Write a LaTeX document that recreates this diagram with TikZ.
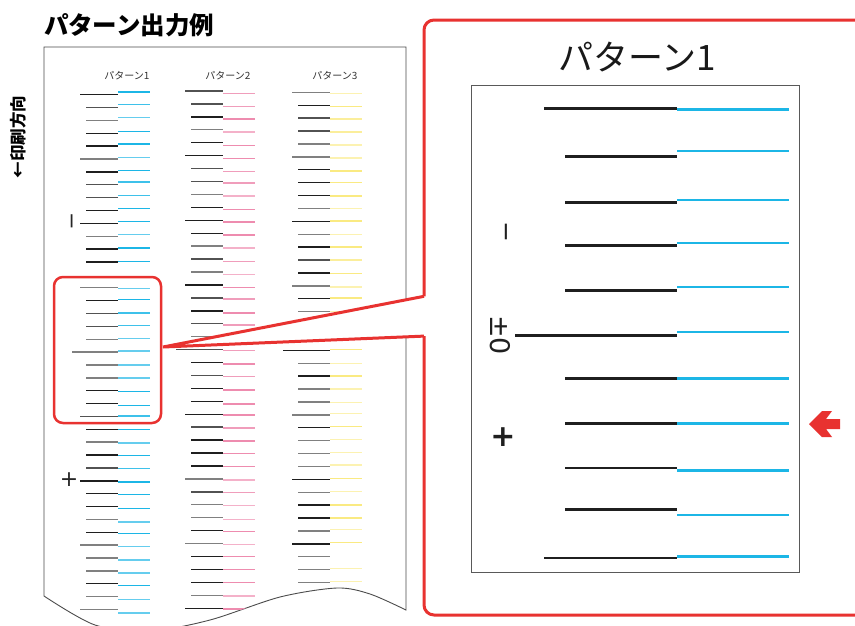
\documentclass[tikz,border=0pt]{standalone}
\usepackage{fontspec}
\setmainfont{Noto Sans CJK JP}
\newfontfamily\sym{DejaVu Sans}
\definecolor{myred}{RGB}{232,50,48}
\definecolor{cyn}{RGB}{28,182,230}
\definecolor{pnk}{RGB}{238,140,175}
\definecolor{ylw}{RGB}{250,234,130}
\colorlet{kd}{black!88}
\colorlet{km}{black!68}
\colorlet{kg}{black!50}
\colorlet{cynd}{cyn}\colorlet{cynm}{cyn!85}\colorlet{cyng}{cyn!68}
\colorlet{pnkd}{pnk}\colorlet{pnkm}{pnk!85}\colorlet{pnkg}{pnk!68}
\colorlet{ylwd}{ylw}\colorlet{ylwm}{ylw!80}\colorlet{ylwg}{ylw!62}
\tikzset{
  bar/.style={line width=1.4pt},
  bigbar/.style={line width=2.6pt},
  redline/.style={draw=myred, line width=3pt},
  lbl/.style={inner sep=0pt, outer sep=0pt},
}
\def\paperpath{(44,47) -- (406,47) -- plot[smooth] coordinates {(406,610) (370,594) (337,588) (280,597) (210,620) (150,631) (95,625) (44,596)} -- cycle}
\begin{document}
\begin{tikzpicture}[x=1pt,y=-1pt]
\useasboundingbox (0,0) rectangle (855,625);
\fill[white] (0,0) rectangle (855,625);

% title
\node[lbl, anchor=west, font=\bfseries\fontsize{24.5}{24.5}\selectfont] (title) at (44,25) {パターン出力例};
\node[lbl, rotate=90, font=\bfseries\fontsize{16.5}{16.5}\selectfont] (dir) at (18,137) {←印刷方向};

% paper
\draw[black!70, line width=0.9pt, fill=white] \paperpath;

\node[lbl, font=\fontsize{10}{10}\selectfont, text=black!80] (p1) at (127,76) {パターン1};
\node[lbl, font=\fontsize{10}{10}\selectfont, text=black!80] (p2) at (228,76) {パターン2};
\node[lbl, font=\fontsize{10}{10}\selectfont, text=black!80] (p3) at (335,76) {パターン3};

\begin{scope}
\clip \paperpath;
% column 1
\foreach \k/\g/\o in {0/d/-2.7,1/m/-3.3,2/g/-3,3/d/-2,4/d/-2.3,5/g/-1.7,6/d/-1.3,7/m/-2.7,8/m/-2,9/d/-2,10/d/-1.7,11/g/-1.7,12/d/-1,13/d/-0.7,15/g/0.7,16/d/-1.3,17/m/-0.3,18/m/-0.7,19/g/-1,20/g/-1,21/g/0,22/g/0,23/d/0.7,24/d/1.7,25/m/-0.3,26/d/0.3,27/g/0.7,28/d/0.3,29/m/0.7,30/d/1.3,31/d/1,32/d/2,33/g/2.7,34/d/1.3,35/g/1.3,36/g/2,37/g/2,38/d/1.7,39/g/2.7,40/g/3.3}{
  \pgfmathsetmacro\yy{94.7+12.87*\k}
  \pgfmathsetmacro\xs{\k==20 ? 72 : (mod(\k,5)==0 ? 80 : 86)}
  \draw[bar, k\g] (\xs,\yy) -- (118,\yy);
  \draw[bar, cyn\g] (118,\yy+\o) -- (150,\yy+\o);
}
% column 2
\foreach \k/\g/\o in {0/m/2.3,1/m/2.3,2/d/2.3,3/g/2.3,4/d/2.7,5/d/2.7,6/m/3,7/m/1.3,8/g/1.7,9/d/2,10/d/1.7,11/d/1.7,12/g/2,13/m/2.3,14/g/2.3,15/d/2.7,16/m/1.3,17/d/2,18/m/1.3,19/g/1,20/m/0.7,21/d/1.3,22/m/1,23/d/1.7,24/d/2.7,25/d/0.7,26/m/0.7,27/d/1,28/d/0.3,29/d/0.7,30/g/1,31/m/0.7,32/g/1,33/g/1.7,34/d/0.7,35/g/0.7,36/d/0.3,37/d/0,38/d/0,39/g/0.7,40/d/0.7}{
  \pgfmathsetmacro\yy{91+12.93*\k}
  \pgfmathsetmacro\xs{\k==20 ? 176 : (mod(\k,5)==0 ? 185 : 191)}
  \draw[bar, k\g] (\xs,\yy) -- (223,\yy);
  \draw[bar, pnk\g] (223,\yy+\o) -- (255,\yy+\o);
}
% column 3
\foreach \k/\g/\o in {0/g/1,1/d/1,2/m/0.7,3/m/1,4/g/1,5/g/1.3,6/d/1.3,7/d/0,8/d/0.3,9/g/0.3,10/d/-0.3,11/g/0,12/d/0,13/m/0,14/d/0.3,15/g/1,16/d/-0.7,17/g/0,18/m/0,19/m/0,20/d/-0.7,21/g/0,22/d/0,23/g/0,24/g/0.7,25/g/-1.3,26/d/-1.3,27/g/-1,28/g/-1.3,29/g/-1.3,30/d/-1,31/g/-1,32/d/0,33/d/0,34/g/-1.3,35/d/-1.3,36/g/0,37/g/-1.3,38/g/-1.3,39/g/-1.3,40/d/-1.3}{
  \pgfmathsetmacro\yy{92.3+12.9*\k}
  \pgfmathsetmacro\xs{\k==20 ? 283 : (mod(\k,5)==0 ? 292 : 298)}
  \draw[bar, k\g] (\xs,\yy) -- (330,\yy);
  \ifnum\k=36\else
  \draw[bar, ylw\g] (330,\yy+\o) -- (362,\yy+\o);
  \fi
}
\end{scope}

% small labels
\node[lbl, rotate=-90, font=\sym\fontsize{21}{21}\selectfont, text=black!85] (sminus) at (69,221) {−};
\node[lbl, font=\sym\fontsize{22}{22}\selectfont, text=black!85] (splus) at (69,480) {+};

% callout source
\node[draw=myred, line width=2.5pt, rounded corners=9pt, minimum width=107pt, minimum height=146pt, inner sep=0pt] (src) at (107.5,350) {};
\coordinate (apex) at (163,347);
\coordinate (wt) at (424,296.3);
\coordinate (wb) at (424,336.1);
\fill[white] (apex) -- (wt) -- (wb) -- cycle;
\draw[redline, line join=miter] (wt) -- (apex) -- (wb);

% big frame
\draw[redline, rounded corners=10pt] (870,20) -- (424,20) -- (wt);
\draw[redline, rounded corners=10pt] (wb) -- (424,615) -- (870,615);

% enlarged view
\node[lbl, font=\fontsize{35}{35}\selectfont, text=black!90] (bigtitle) at (637,57) {パターン1};
\node[draw=black!65, line width=0.9pt, minimum width=328pt, minimum height=487pt, inner sep=0pt] (box) at (635,328.5) {};
\foreach \by/\cy/\xs in {108.7/109.3/544,156.3/151/565,202.3/200/565,245.3/243/565,290.3/287/565,335.7/332/515,378.3/378.3/565,423.7/423.7/565,468/470.3/565,509.3/515/565,558/556.3/544}{
  \draw[bigbar, black!88] (\xs,\by) -- (677,\by);
  \draw[bigbar, cyn] (677,\cy) -- (789,\cy);
}
\node[lbl, rotate=-90, font=\sym\fontsize{25}{25}\selectfont, text=black!88] (bminus) at (503,232) {−};
\node[lbl, rotate=-90, font=\sym\fontsize{27}{27}\selectfont, text=black!88] (bzero) at (500,335) {±0};
\node[lbl, font=\sym\bfseries\fontsize{30}{30}\selectfont, text=black!88] (bplus) at (503,437) {+};

% pointer arrow
\fill[myred] (809,424) -- (822,411) -- (832,411) -- (826,419) -- (840,419) -- (840,429) -- (826,429) -- (832,437) -- (822,437) -- cycle;
\end{tikzpicture}
\end{document}
